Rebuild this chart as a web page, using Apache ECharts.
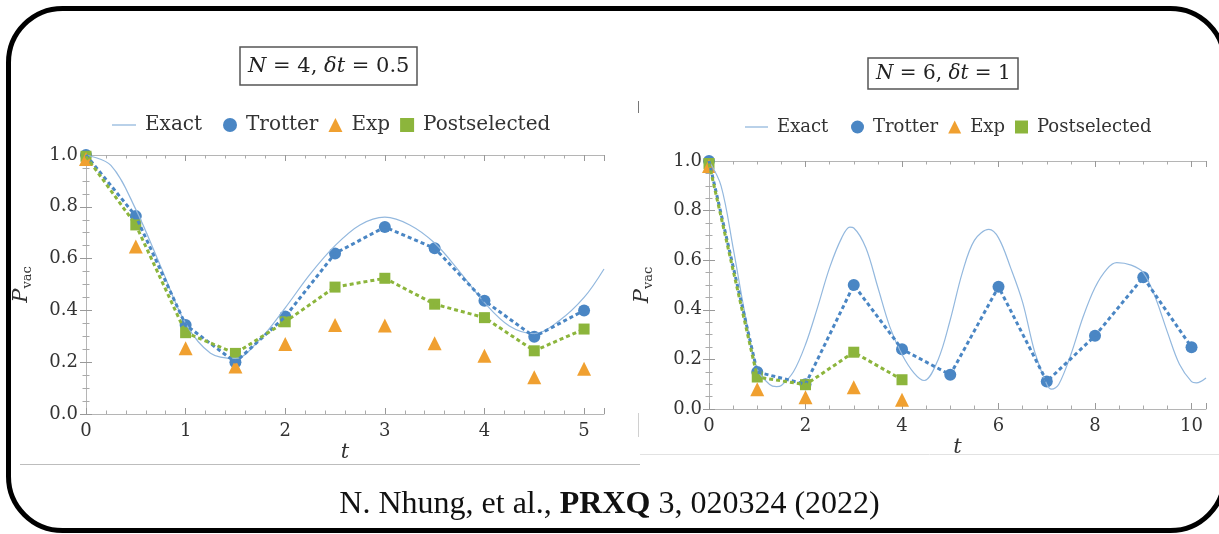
<!DOCTYPE html>
<html>
<head>
<meta charset="utf-8">
<script src="https://cdn.jsdelivr.net/npm/echarts@6/dist/echarts.min.js"></script>
<style>
  html, body { margin: 0; padding: 0; background: #fff; }
  #chart { width: 1219px; height: 534px; }
</style>
</head>
<body>
<div id="chart"></div>
<script>
// ---- data ----
// left panel: N = 4, dt = 0.5
var leftT = [0, 0.5, 1, 1.5, 2, 2.5, 3, 3.5, 4, 4.5, 5];
var leftTrotter = [1.0, 0.764, 0.344, 0.20, 0.376, 0.62, 0.722, 0.64, 0.437, 0.298, 0.40];
var leftExp = [0.985, 0.647, 0.254, 0.183, 0.27, 0.344, 0.342, 0.273, 0.225, 0.142, 0.175];
var leftPost = [0.995, 0.73, 0.314, 0.234, 0.356, 0.49, 0.524, 0.424, 0.372, 0.244, 0.328];
var leftExactT = [0, 0.25, 0.5, 0.75, 1.0, 1.25, 1.5, 1.75, 2.0, 2.25, 2.5, 2.75, 3.0, 3.25, 3.5, 3.75, 4.0, 4.25, 4.5, 4.75, 5.0, 5.2];
var leftExactV = [1.0, 0.96, 0.79, 0.57, 0.35, 0.235, 0.215, 0.29, 0.41, 0.54, 0.65, 0.73, 0.76, 0.73, 0.66, 0.55, 0.43, 0.34, 0.31, 0.36, 0.45, 0.56];

// right panel: N = 6, dt = 1
var rightT = [0, 1, 2, 3, 4, 5, 6, 7, 8, 9, 10];
var rightTrotter = [1.0, 0.149, 0.10, 0.50, 0.241, 0.138, 0.493, 0.111, 0.295, 0.531, 0.249];
var rightExpT = [0, 1, 2, 3, 4];
var rightExp = [0.98, 0.08, 0.047, 0.088, 0.037];
var rightPost = [0.99, 0.129, 0.098, 0.229, 0.118];
var rightExactT = [0, 0.25, 0.5, 0.75, 1.0, 1.25, 1.4, 1.5, 1.75, 2.0, 2.25, 2.5, 2.75, 2.92, 3.0, 3.25, 3.5, 3.75, 4.0, 4.25, 4.46, 4.75, 5.0, 5.25, 5.5, 5.8, 6.0, 6.25, 6.5, 6.75, 7.0, 7.1, 7.25, 7.5, 7.75, 8.0, 8.25, 8.45, 8.75, 9.0, 9.25, 9.5, 9.75, 10.0, 10.1, 10.3];
var rightExactV = [1.0, 0.9, 0.65, 0.38, 0.16, 0.1, 0.09, 0.095, 0.15, 0.26, 0.41, 0.57, 0.69, 0.733, 0.73, 0.65, 0.49, 0.33, 0.22, 0.145, 0.115, 0.2, 0.36, 0.55, 0.68, 0.724, 0.69, 0.57, 0.43, 0.23, 0.1, 0.08, 0.1, 0.22, 0.37, 0.49, 0.565, 0.59, 0.58, 0.55, 0.45, 0.31, 0.18, 0.11, 0.105, 0.125];

var caption = ['N. Nhung, et al., ', 'PRXQ', ' 3, 020324 (2022)'];

// ---- helpers ----
function pairs(xs, ys) {
	var out = [];
	for (var i = 0; i < ys.length; i++) out.push([xs[i], ys[i]]);
	return out;
}

var SERIF = 'DejaVu Serif';
var BLUE = '#4a86c4', ORANGE = '#f0a030', GREEN = '#8cb53c', EXACT = '#93b8de';
var FRAME = '#b5b5b5';

function xAx(grid, max, interval, minorSplit, pos, labelMargin, nameGap) {
	var bottom = pos === 'bottom';
	return {
		type: 'value', gridIndex: grid, position: pos, min: 0, max: max, interval: interval,
		axisLine: { show: true, onZero: false, lineStyle: { color: FRAME, width: 1 } },
		axisTick: { show: true, inside: true, length: 6, lineStyle: { color: '#999' } },
		minorTick: { show: true, splitNumber: minorSplit, length: 3.5, lineStyle: { color: '#aaa' } },
		splitLine: { show: false },
		axisLabel: {
			show: bottom, margin: labelMargin, fontFamily: SERIF, fontSize: 18, color: '#333',
			formatter: function (v) { return Math.abs(v - Math.round(v)) < 1e-6 && v % interval === 0 ? String(v) : ''; }
		},
		name: bottom ? 't' : '', nameLocation: 'middle', nameGap: nameGap,
		nameTextStyle: { fontFamily: SERIF, fontStyle: 'italic', fontSize: 21, color: '#333' }
	};
}

function yAx(grid, pos, labelMargin, nameGap) {
	var left = pos === 'left';
	return {
		type: 'value', gridIndex: grid, position: pos, min: 0, max: 1, interval: 0.2,
		axisLine: { show: true, lineStyle: { color: FRAME, width: 1 } },
		axisTick: { show: true, inside: true, length: 6, lineStyle: { color: '#999' } },
		minorTick: { show: true, splitNumber: 4, length: 3.5, lineStyle: { color: '#aaa' } },
		splitLine: { show: false },
		axisLabel: {
			show: left, margin: labelMargin, fontFamily: SERIF, fontSize: 18, color: '#333',
			formatter: function (v) { return v.toFixed(1); }
		},
		name: left ? '{p|P}{s|vac}' : '', nameLocation: 'middle', nameGap: nameGap, nameRotate: 90,
		nameTextStyle: {
			rich: {
				p: { fontFamily: SERIF, fontStyle: 'italic', fontSize: 21, color: '#333' },
				s: { fontFamily: SERIF, fontSize: 13, color: '#333', padding: [12, 0, 0, 0] }
			}
		}
	};
}

function dashLine(name, data, color, xi, yi) {
	return {
		name: name, type: 'line', xAxisIndex: xi, yAxisIndex: yi, data: data,
		symbol: 'none', silent: true,
		lineStyle: { color: color, width: 3, type: [4, 3] }
	};
}

function marks(name, data, symbol, size, color, xi, yi) {
	return {
		name: name, type: 'scatter', xAxisIndex: xi, yAxisIndex: yi, data: data,
		symbol: symbol, symbolSize: size, itemStyle: { color: color, opacity: 1 }
	};
}

function exactLine(data, xi, yi) {
	return {
		name: 'Exact', type: 'line', xAxisIndex: xi, yAxisIndex: yi, data: data,
		symbol: 'none', smooth: 0.35, lineStyle: { color: EXACT, width: 1.2 }, itemStyle: { color: EXACT }
	};
}

function legendText(size) {
	return { fontFamily: SERIF, fontSize: size, color: '#333', padding: [0, 0, 0, 4] };
}

var chart = echarts.init(document.getElementById('chart'), null, { renderer: 'canvas' });

var option = {
	animation: false,
	backgroundColor: '#fff',
	title: [
		{
			text: '{i|N} = 4, {i|δt} = 0.5', left: 240, top: 47,
			borderColor: '#555', borderWidth: 1.5, padding: [9, 8, 8, 8],
			textStyle: { fontFamily: SERIF, fontSize: 21, fontWeight: 'normal', color: '#222',
				rich: { i: { fontFamily: SERIF, fontStyle: 'italic', fontSize: 21, color: '#222' } } }
		},
		{
			text: '{i|N} = 6, {i|δt} = 1', left: 868, top: 58,
			borderColor: '#555', borderWidth: 1.5, padding: [6, 8, 5, 8],
			textStyle: { fontFamily: SERIF, fontSize: 20, fontWeight: 'normal', color: '#222',
				rich: { i: { fontFamily: SERIF, fontStyle: 'italic', fontSize: 20, color: '#222' } } }
		}
	],
	legend: [
		{ data: [{ name: 'Exact', icon: 'rect' }], left: 112, top: 115, padding: 0, itemWidth: 24, itemHeight: 1.3, textStyle: legendText(20), selectedMode: false },
		{ data: ['Trotter', 'Exp', 'Postselected'], left: 223, top: 115, padding: 0, itemWidth: 14, itemHeight: 14, itemGap: 10, textStyle: legendText(20), selectedMode: false },
		{ data: [{ name: 'Exact', icon: 'rect' }], left: 745, top: 118, padding: 0, itemWidth: 23, itemHeight: 1.3, textStyle: legendText(18), selectedMode: false },
		{ data: ['Trotter', 'Exp', 'Postselected'], left: 851, top: 118, padding: 0, itemWidth: 13, itemHeight: 13, itemGap: 10, textStyle: legendText(18), selectedMode: false }
	],
	grid: [
		{ left: 86, top: 155, width: 518, height: 259 },
		{ left: 709, top: 161, width: 497, height: 248 }
	],
	xAxis: [
		xAx(0, 5.2, 1, 5, 'bottom', 8, 28),
		xAx(0, 5.2, 1, 5, 'top', 8, 0),
		xAx(1, 10.3, 2, 4, 'bottom', 8, 28),
		xAx(1, 10.3, 2, 4, 'top', 8, 0)
	],
	yAxis: [
		yAx(0, 'left', 8, 52),
		yAx(0, 'right', 8, 0),
		yAx(1, 'left', 7, 54),
		yAx(1, 'right', 7, 0)
	],
	series: [
		exactLine(pairs(leftExactT, leftExactV), 0, 0),
		dashLine('TrotterLine', pairs(leftT, leftTrotter), BLUE, 0, 0),
		marks('Trotter', pairs(leftT, leftTrotter), 'circle', 12, BLUE, 0, 0),
		dashLine('PostLine', pairs(leftT, leftPost), GREEN, 0, 0),
		marks('Postselected', pairs(leftT, leftPost), 'rect', 11, GREEN, 0, 0),
		marks('Exp', pairs(leftT, leftExp), 'triangle', 14, ORANGE, 0, 0),

		exactLine(pairs(rightExactT, rightExactV), 2, 2),
		dashLine('TrotterLine', pairs(rightT, rightTrotter), BLUE, 2, 2),
		marks('Trotter', pairs(rightT, rightTrotter), 'circle', 12, BLUE, 2, 2),
		dashLine('PostLine', pairs(rightExpT, rightPost), GREEN, 2, 2),
		marks('Postselected', pairs(rightExpT, rightPost), 'rect', 11, GREEN, 2, 2),
		marks('Exp', pairs(rightExpT, rightExp), 'triangle', 14, ORANGE, 2, 2)
	],
	graphic: [
		// panel edges of the two pasted figures
		{ type: 'line', shape: { x1: 20, y1: 464.5, x2: 640, y2: 464.5 }, style: { stroke: '#bdbdbd', lineWidth: 1 }, silent: true },
		{ type: 'line', shape: { x1: 640, y1: 454.5, x2: 1219, y2: 454.5 }, style: { stroke: '#e2e2e2', lineWidth: 1 }, silent: true },
		{ type: 'line', shape: { x1: 638.5, y1: 413, x2: 638.5, y2: 437 }, style: { stroke: '#d0d0d0', lineWidth: 1 }, silent: true },
		{ type: 'line', shape: { x1: 638.5, y1: 101, x2: 638.5, y2: 113 }, style: { stroke: '#777', lineWidth: 1 }, silent: true },
		// rounded black frame, its right side runs just past the page edge
		{ type: 'rect', shape: { x: 8.5, y: 8.5, width: 1216, height: 522, r: 54 }, style: { fill: 'none', stroke: '#000', lineWidth: 5 }, silent: true },
		// citation
		{
			type: 'text', left: 'center', top: 489, silent: true,
			style: {
				text: '{n|' + caption[0] + '}{b|' + caption[1] + '}{n|' + caption[2] + '}',
				rich: {
					n: { fontFamily: 'Liberation Serif', fontSize: 32, fill: '#111' },
					b: { fontFamily: 'Liberation Serif', fontSize: 32, fontWeight: 'bold', fill: '#111' }
				}
			}
		}
	]
};

chart.setOption(option);
</script>
</body>
</html>
